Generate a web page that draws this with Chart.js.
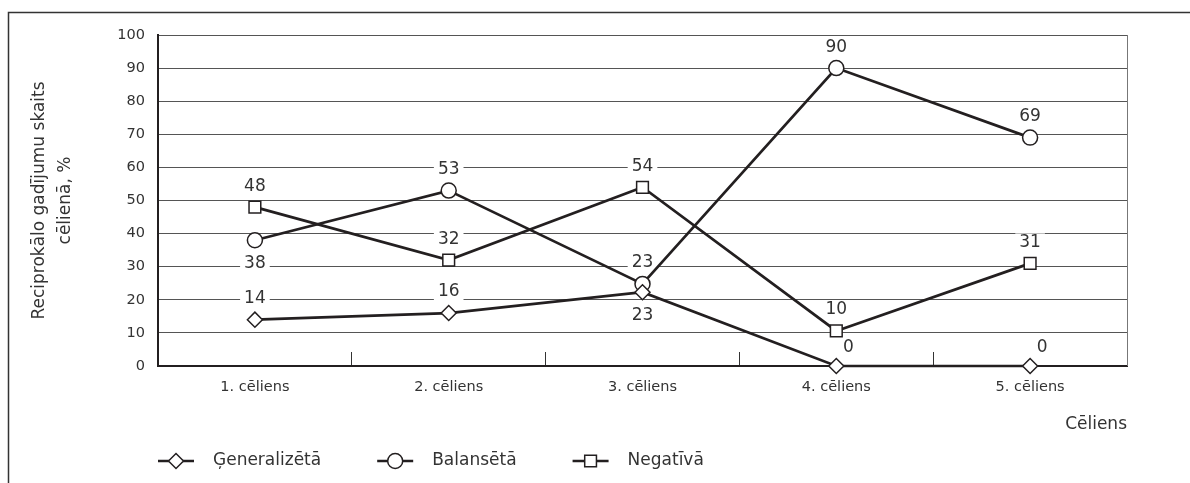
<!DOCTYPE html>
<html>
<head>
<meta charset="utf-8">
<script src="https://cdn.jsdelivr.net/npm/chart.js@4.4.1/dist/chart.umd.min.js"></script>
<style>
    html, body { margin: 0; padding: 0; background: #fff; }
    #chart { display: block; }
</style>
</head>
<body>
<canvas id="chart" width="1190" height="483"></canvas>
<script>
// Chart data
const categories = ['1. cēliens', '2. cēliens', '3. cēliens', '4. cēliens', '5. cēliens'];
const generalizetaValues = [14, 16, 22.3, 0, 0];
const balansetaValues = [38, 53, 24.8, 90, 69];
const negativaValues = [48, 32, 54, 10.6, 31];

// Value labels as printed on the chart
const generalizetaLabels = ['14', '16', '23', '0', '0'];
const balansetaLabels = ['38', '53', '23', '90', '69'];
const negativaLabels = ['48', '32', '54', '10', '31'];

const yTickValues = [0, 10, 20, 30, 40, 50, 60, 70, 80, 90, 100];

const INK = '#231f20';
const TEXT = '#333';
const FONT = 'DejaVu Sans';

Chart.defaults.font.family = FONT;
Chart.defaults.color = TEXT;

// Draw the value labels on a white box, under the lines
const valueLabelsPlugin = {
    id: 'valueLabels',
    beforeDatasetsDraw(chart) {
        const ctx = chart.ctx;
        ctx.save();
        ctx.font = '17px "' + FONT + '"';
        ctx.textAlign = 'center';
        ctx.textBaseline = 'middle';
        chart.data.datasets.forEach((ds, i) => {
            const meta = chart.getDatasetMeta(i);
            meta.data.forEach((pt, j) => {
                const text = ds.valueLabels[j];
                const place = ds.labelPlace[j];
                let x = pt.x;
                let y = pt.y;
                if (place === 'above') {
                    y -= 21;
                } else if (place === 'below') {
                    y += 23;
                } else if (place === 'aboveRight') {
                    x += 12;
                    y -= 18;
                }
                const w = ctx.measureText(text).width + 8;
                ctx.fillStyle = '#fff';
                ctx.fillRect(x - w / 2, y - 9, w, 18);
                ctx.fillStyle = TEXT;
                ctx.fillText(text, x, y);
            });
        });
        ctx.restore();
    }
};

// Outer frame, right border of the plot and the legend
const framePlugin = {
    id: 'frame',
    beforeDraw(chart) {
        const ctx = chart.ctx;
        ctx.save();
        ctx.fillStyle = '#fff';
        ctx.fillRect(0, 0, chart.width, chart.height);
        ctx.strokeStyle = '#333';
        ctx.lineWidth = 1.5;
        ctx.beginPath();
        ctx.moveTo(8.5, chart.height);
        ctx.lineTo(8.5, 12.5);
        ctx.lineTo(chart.width, 12.5);
        ctx.stroke();
        ctx.restore();
    },
    afterDraw(chart) {
        const ctx = chart.ctx;
        const area = chart.chartArea;
        ctx.save();
        ctx.strokeStyle = '#777';
        ctx.lineWidth = 1;
        ctx.beginPath();
        ctx.moveTo(area.right + 0.5, area.top);
        ctx.lineTo(area.right + 0.5, area.bottom);
        ctx.stroke();

        // legend
        let x = area.left;
        const y = 461;
        ctx.font = '17px "' + FONT + '"';
        ctx.textBaseline = 'middle';
        ctx.textAlign = 'left';
        chart.data.datasets.forEach(ds => {
            ctx.strokeStyle = INK;
            ctx.lineWidth = 2.7;
            ctx.beginPath();
            ctx.moveTo(x, y);
            ctx.lineTo(x + 36, y);
            ctx.stroke();
            ctx.fillStyle = '#fff';
            ctx.lineWidth = ds.pointBorderWidth;
            Chart.helpers.drawPoint(ctx, {
                pointStyle: ds.pointStyle,
                radius: ds.pointRadius,
                borderWidth: ds.pointBorderWidth,
                rotation: 0
            }, x + 18, y);
            ctx.fillStyle = TEXT;
            ctx.fillText(ds.label, x + 55, y);
            x += 55 + ctx.measureText(ds.label).width + 56;
        });
        ctx.restore();
    }
};

function lineDataset(label, values, labels, places, style, radius) {
    return {
        label: label,
        data: values,
        valueLabels: labels,
        labelPlace: places,
        borderColor: INK,
        borderWidth: 2.7,
        pointStyle: style,
        pointRadius: radius,
        pointBackgroundColor: '#fff',
        pointBorderColor: INK,
        pointBorderWidth: 1.5,
        tension: 0,
        clip: false
    };
}

const datasets = [
    lineDataset('Ģeneralizētā', generalizetaValues, generalizetaLabels,
        ['above', 'above', 'below', 'aboveRight', 'aboveRight'], 'rectRot', 7.5),
    lineDataset('Balansētā', balansetaValues, balansetaLabels,
        ['below', 'above', 'above', 'above', 'above'], 'circle', 7.5),
    lineDataset('Negatīvā', negativaValues, negativaLabels,
        ['above', 'above', 'above', 'above', 'above'], 'rect', 8.3)
];

new Chart(document.getElementById('chart'), {
    type: 'line',
    data: {
        labels: categories,
        datasets: datasets
    },
    options: {
        responsive: false,
        animation: false,
        layout: {
            padding: { left: 0, right: 63, top: 35, bottom: 43 }
        },
        plugins: {
            legend: { display: false },
            tooltip: { enabled: false }
        },
        scales: {
            x: {
                offset: true,
                grid: {
                    offset: true,
                    drawOnChartArea: false,
                    tickLength: -14,
                    color: '#333',
                    lineWidth: 1
                },
                border: { color: INK, width: 2 },
                ticks: {
                    padding: 27,
                    color: TEXT,
                    font: { size: 14.5 }
                },
                title: {
                    display: true,
                    text: 'Cēliens',
                    align: 'end',
                    color: TEXT,
                    font: { size: 17, lineHeight: 1.2 },
                    padding: { top: 0, bottom: 5 }
                },
                afterFit(scale) {
                    scale.height = 74;
                }
            },
            y: {
                min: 0,
                max: 100,
                afterBuildTicks(scale) {
                    scale.ticks = yTickValues.map(v => ({ value: v }));
                },
                grid: {
                    drawTicks: false,
                    color: '#555',
                    lineWidth: 1
                },
                border: { color: INK, width: 2 },
                ticks: {
                    padding: 13,
                    color: TEXT,
                    font: { size: 14.5 }
                },
                title: {
                    display: true,
                    text: ['Reciprokālo gadījumu skaits', 'cēlienā, %'],
                    color: TEXT,
                    font: { size: 17, lineHeight: 1.5 },
                    padding: { top: 27, bottom: 0 }
                },
                afterFit(scale) {
                    scale.width = 158;
                }
            }
        }
    },
    plugins: [framePlugin, valueLabelsPlugin]
});
</script>
</body>
</html>
